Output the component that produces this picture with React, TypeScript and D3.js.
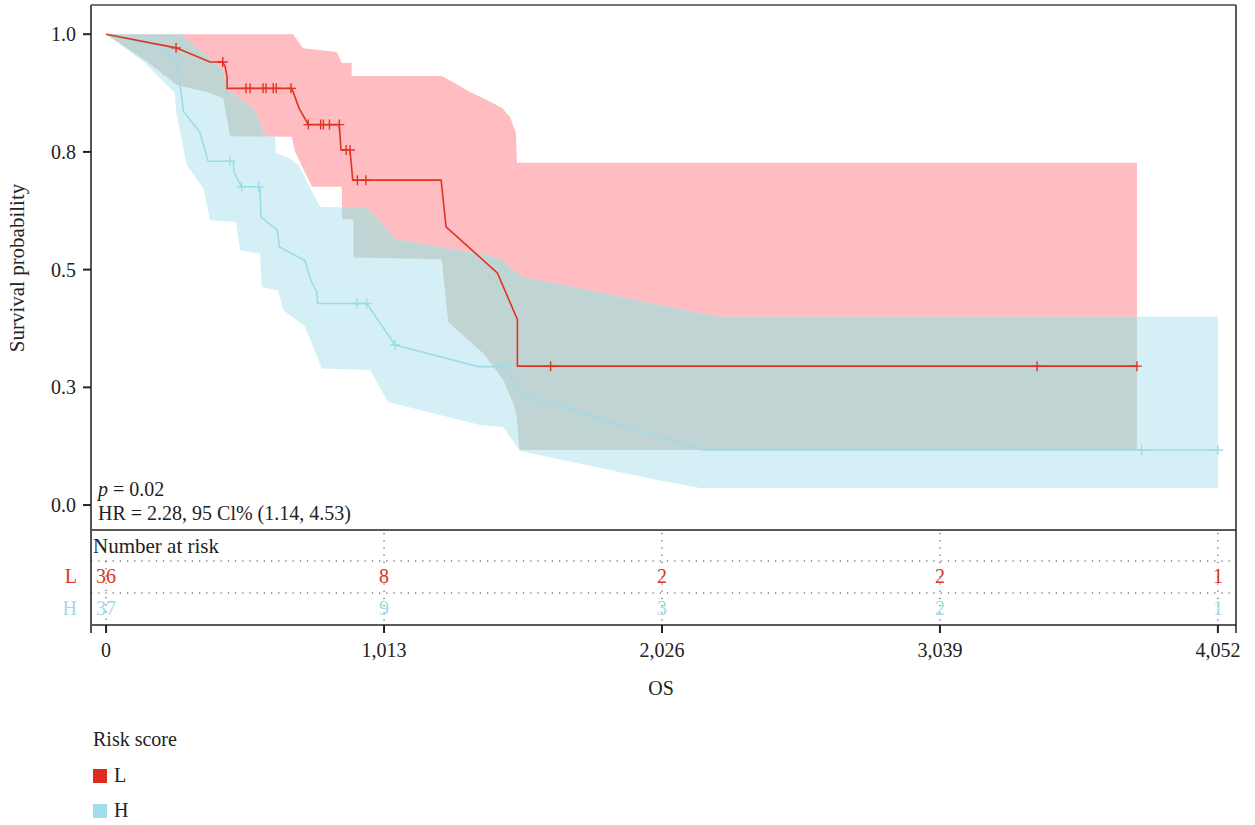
import React from "react";
import * as d3 from "d3";

// Kaplan-Meier curve of the low risk group (L): [days, survival]
const survL: [number, number][] = [
  [0, 1.0], [255, 0.971], [379, 0.941], [425, 0.941], [434, 0.931], [441, 0.909], [441, 0.885],
  [677, 0.885], [703, 0.843], [737, 0.808], [850, 0.808], [856, 0.754], [889, 0.754], [899, 0.69],
  [1221, 0.69], [1239, 0.591], [1426, 0.493], [1499, 0.394], [1499, 0.295], [3757, 0.295],
];
const censorL = [255, 425, 510, 525, 572, 583, 609, 620, 674, 737, 782, 792, 814, 850, 875, 889, 916, 947, 1620, 3393, 3757];
const upperL: [number, number][] = [
  [0, 1.0], [681, 1.0], [718, 0.97], [841, 0.962], [859, 0.939], [895, 0.939], [895, 0.911],
  [1224, 0.911], [1272, 0.896], [1326, 0.877], [1388, 0.86], [1443, 0.843], [1472, 0.824],
  [1494, 0.79], [1497, 0.727], [3757, 0.727],
];
const lowerL: [number, number][] = [
  [0, 1.0], [148, 0.942], [258, 0.892], [379, 0.875], [427, 0.864], [452, 0.783], [677, 0.782],
  [689, 0.75], [750, 0.676], [859, 0.676], [860, 0.607], [901, 0.607], [901, 0.526], [1223, 0.522],
  [1247, 0.389], [1375, 0.322], [1448, 0.265], [1484, 0.216], [1497, 0.187], [1506, 0.117], [3757, 0.117],
];

// high risk group (H)
const survH: [number, number][] = [
  [0, 1.0], [172, 0.977], [258, 0.945], [282, 0.836], [341, 0.793], [372, 0.73], [464, 0.73],
  [466, 0.707], [494, 0.676], [561, 0.676], [564, 0.612], [624, 0.584], [632, 0.548], [725, 0.519],
  [747, 0.476], [768, 0.453], [771, 0.428], [950, 0.428], [1053, 0.34], [1357, 0.294], [1450, 0.294],
  [1515, 0.234], [2177, 0.117], [4052, 0.117],
];
const censorH = [452, 494, 556, 914, 950, 1053, 1450, 3774, 4052];
const upperH: [number, number][] = [
  [0, 1.0], [273, 1.0], [426, 0.924], [445, 0.881], [543, 0.839], [579, 0.782], [616, 0.782],
  [619, 0.747], [670, 0.736], [701, 0.722], [780, 0.633], [950, 0.632], [1059, 0.564], [1363, 0.533],
  [1436, 0.524], [1509, 0.486], [2231, 0.4], [4052, 0.4],
];
const lowerH: [number, number][] = [
  [0, 1.0], [136, 0.942], [251, 0.875], [255, 0.836], [294, 0.722], [355, 0.672], [379, 0.605],
  [474, 0.601], [488, 0.541], [561, 0.534], [567, 0.463], [627, 0.456], [645, 0.414], [725, 0.379],
  [786, 0.29], [962, 0.287], [1028, 0.219], [1363, 0.17], [1447, 0.166], [1509, 0.115], [2008, 0.053],
  [2165, 0.036], [4052, 0.036],
];

const xTicks = [0, 1013, 2026, 3039, 4052];
const yTicks = [0, 0.25, 0.5, 0.75, 1];
const yTickLabels = ["0.0", "0.3", "0.5", "0.8", "1.0"];
const groups = ["L", "H"];
const atRiskL = [36, 8, 2, 2, 1];
const atRiskH = [37, 9, 3, 2, 1];

const RED = "#e03322";
const BLUE = "#9ddbe8";
const PINK = "#ffbcc1";
const LIGHTBLUE = "#d4f0f6";
const OVERLAP = "#c1d4d4";
const FONT = "'Liberation Serif', 'DejaVu Serif', serif";
const INK = "#222";

function survAt(curve: [number, number][], t: number) {
  for (let i = 1; i < curve.length; i++) {
    const [t0, s0] = curve[i - 1];
    const [t1, s1] = curve[i];
    if (t <= t1) return t1 === t0 ? s1 : s0 + ((s1 - s0) * (t - t0)) / (t1 - t0);
  }
  return curve[curve.length - 1][1];
}

export default function App() {
  const left = 91, right = 1236, top = 5, plotBottom = 530, tableBottom = 625;

  const x = d3.scaleLinear().domain([-55, 4118]).range([left, right]);
  const y = d3.scaleLinear().domain([-0.053, 1.062]).range([plotBottom, top]);

  const line = d3.line<[number, number]>().x((d) => x(d[0])).y((d) => y(d[1]));
  const band = (up: [number, number][], lo: [number, number][]) =>
    line([...up, ...lo.slice().reverse()]) + "Z";

  const bandL = band(upperL, lowerL);
  const bandH = band(upperH, lowerH);

  const plus = (t: number, s: number) => {
    const cx = x(t), cy = y(s);
    return `M${cx - 5},${cy}H${cx + 5}M${cx},${cy - 5}V${cy + 5}`;
  };

  const rowY = [576, 608];
  const dotY = [561, 593];
  const risk = [atRiskL, atRiskH];
  const colors = [RED, BLUE];

  return (
    <div style={{ position: "absolute", left: 0, top: 0 }}>
      <svg width={1255} height={825} style={{ display: "block", background: "#fff" }} fontFamily={FONT}>
        <defs>
          <clipPath id="clipH">
            <path d={bandH} />
          </clipPath>
        </defs>

        {/* confidence bands */}
        <path d={bandL} fill={PINK} />
        <path d={bandH} fill={LIGHTBLUE} />
        <path d={bandL} fill={OVERLAP} clipPath="url(#clipH)" />

        {/* survival curves */}
        <path d={line(survH) || ""} fill="none" stroke={BLUE} strokeWidth={1.6} />
        <path d={line(survL) || ""} fill="none" stroke={RED} strokeWidth={1.6} />
        <path d={censorH.map((t) => plus(t, survAt(survH, t))).join("")} stroke={BLUE} strokeWidth={1.4} fill="none" />
        <path d={censorL.map((t) => plus(t, survAt(survL, t))).join("")} stroke={RED} strokeWidth={1.4} fill="none" />

        {/* frame */}
        <line x1={left} x2={right} y1={top} y2={top} stroke="#444" strokeWidth={1.5} />
        <line x1={left} x2={right} y1={plotBottom} y2={plotBottom} stroke="#222" strokeWidth={1.5} />
        <line x1={left} x2={right} y1={tableBottom} y2={tableBottom} stroke="#222" strokeWidth={1.5} />
        <line x1={left} x2={left} y1={top} y2={tableBottom + 8} stroke="#555" strokeWidth={2} />
        <line x1={right} x2={right} y1={top} y2={tableBottom + 8} stroke="#222" strokeWidth={1.5} />

        {/* y axis */}
        {yTicks.map((v, i) => (
          <g key={v}>
            <line x1={left - 8} x2={left} y1={y(v)} y2={y(v)} stroke="#222" strokeWidth={2} />
            <text x={left - 15} y={y(v)} dy="0.35em" textAnchor="end" fontSize={20} fill={INK}>
              {yTickLabels[i]}
            </text>
          </g>
        ))}
        <text transform="translate(24,268) rotate(-90)" textAnchor="middle" fontSize={21} fill={INK}>
          Survival probability
        </text>

        {/* annotation */}
        <text x={98} y={496} fontSize={20} fill={INK}>
          <tspan fontStyle="italic">p</tspan> = 0.02
        </text>
        <text x={98} y={520} fontSize={20} fill={INK}>
          HR = 2.28, 95 Cl% (1.14, 4.53)
        </text>

        {/* risk table */}
        <text x={93} y={553} fontSize={21} fill={INK}>Number at risk</text>
        {dotY.map((d) => (
          <line key={d} x1={left} x2={right} y1={d} y2={d} stroke="#333" strokeWidth={1} strokeDasharray="1.2,6" />
        ))}
        {xTicks.map((t, i) => (
          <line key={t} x1={x(t)} x2={x(t)} y1={i === 0 ? 561 : 533} y2={tableBottom} stroke="#333" strokeWidth={1} strokeDasharray="1.2,6" />
        ))}
        {groups.map((g, gi) => (
          <g key={g}>
            <text x={77} y={rowY[gi]} dy="0.35em" textAnchor="end" fontSize={20} fill={colors[gi]}>{g}</text>
            {risk[gi].map((n, i) => (
              <text key={i} x={x(xTicks[i])} y={rowY[gi]} dy="0.35em" textAnchor="middle" fontSize={20} fill={colors[gi]}>
                {n}
              </text>
            ))}
          </g>
        ))}

        {/* x axis */}
        {xTicks.map((t) => (
          <g key={t}>
            <line x1={x(t)} x2={x(t)} y1={tableBottom} y2={tableBottom + 8} stroke="#222" strokeWidth={2} />
            <text x={x(t)} y={657} textAnchor="middle" fontSize={20} fill={INK}>
              {d3.format(",")(t)}
            </text>
          </g>
        ))}
        <text x={661} y={695} textAnchor="middle" fontSize={20} fill={INK}>OS</text>

        {/* legend */}
        <text x={93} y={746} fontSize={20} fill={INK}>Risk score</text>
        {groups.map((g, gi) => (
          <g key={g}>
            <rect x={93} y={769 + gi * 35} width={14} height={14} fill={gi === 0 ? "#dd2c1f" : "#9fdde9"} />
            <text x={114} y={782 + gi * 35} fontSize={20} fill={INK}>{g}</text>
          </g>
        ))}
      </svg>
    </div>
  );
}
